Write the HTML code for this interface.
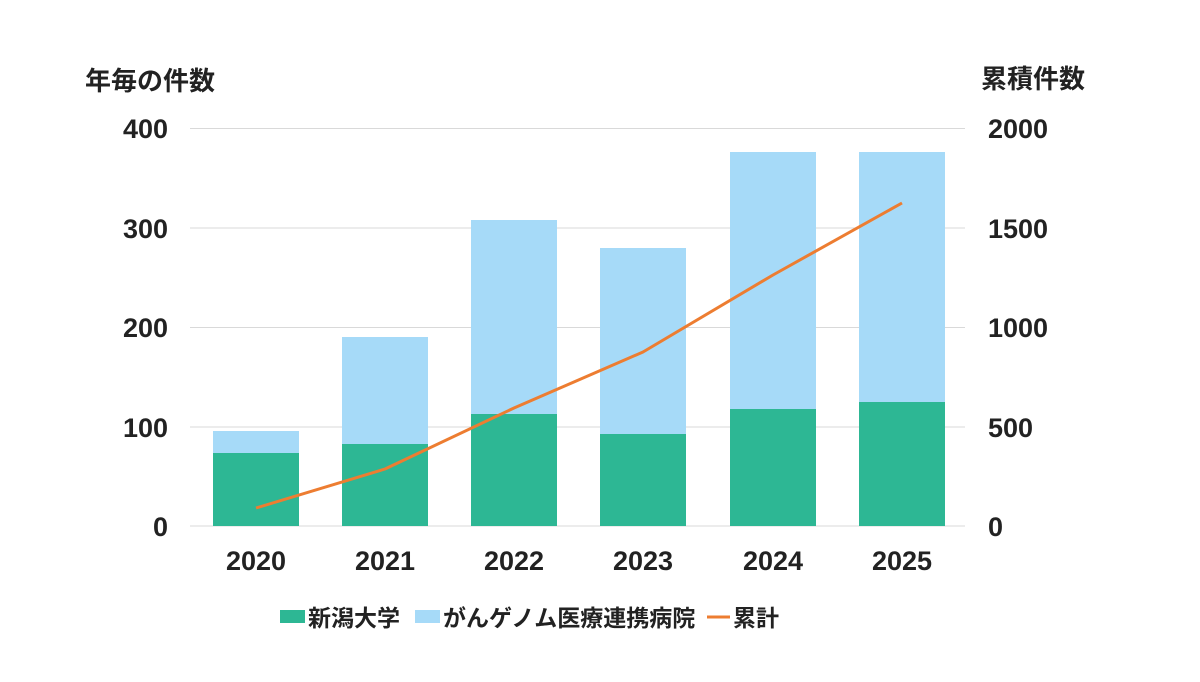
<!DOCTYPE html>
<html><head><meta charset="utf-8"><style>
body{margin:0;background:#fff;}
svg text{font-family:"Liberation Sans","Noto Sans CJK JP",sans-serif;fill:#222;font-weight:bold;}
</style></head><body>
<svg width="1200" height="677" xmlns="http://www.w3.org/2000/svg">
<g stroke="#d9d9d9" stroke-width="1">
<line x1="190" x2="965" y1="128.5" y2="128.5"/>
<line x1="190" x2="965" y1="228" y2="228"/>
<line x1="190" x2="965" y1="327.5" y2="327.5"/>
<line x1="190" x2="965" y1="427" y2="427"/>
<line x1="190" x2="965" y1="526" y2="526"/>
</g>
<g font-size="27">
<text x="215" y="90" font-size="26" font-weight="500" text-anchor="end">年毎の件数</text>
<text x="1085" y="88" font-size="26" font-weight="500" text-anchor="end">累積件数</text>
<g text-anchor="end">
<text x="168" y="138">400</text><text x="168" y="238">300</text><text x="168" y="337">200</text><text x="168" y="437">100</text><text x="168" y="536">0</text>
</g>
<g text-anchor="start">
<text x="988" y="138">2000</text><text x="988" y="238">1500</text><text x="988" y="337">1000</text><text x="988" y="437">500</text><text x="988" y="536">0</text>
</g>
<g text-anchor="middle">
<text x="256" y="570">2020</text><text x="385" y="570">2021</text><text x="514" y="570">2022</text><text x="643" y="570">2023</text><text x="773" y="570">2024</text><text x="902" y="570">2025</text>
</g>
</g>
<g fill="#a6daf8">
<rect x="213" y="431" width="86" height="95"/>
<rect x="342" y="337" width="86" height="189"/>
<rect x="471" y="220" width="86" height="306"/>
<rect x="600" y="248" width="86" height="278"/>
<rect x="730" y="152" width="86" height="374"/>
<rect x="859" y="152" width="86" height="374"/>
</g>
<g fill="#2db794">
<rect x="213" y="453" width="86" height="73"/>
<rect x="342" y="444" width="86" height="82"/>
<rect x="471" y="414" width="86" height="112"/>
<rect x="600" y="434" width="86" height="92"/>
<rect x="730" y="409" width="86" height="117"/>
<rect x="859" y="402" width="86" height="124"/>
</g>
<polyline points="256,508 385,469 514,408 643,352 773,275 902,203" fill="none" stroke="#ed7d31" stroke-width="3" stroke-linejoin="round"/>
<rect x="280" y="610" width="25" height="13" fill="#2db794"/>
<text x="308" y="626" font-size="23" font-weight="500">新潟大学</text>
<rect x="415" y="610" width="25" height="13" fill="#a6daf8"/>
<text x="443" y="626" font-size="23" font-weight="500">がんゲノム医療連携病院</text>
<line x1="707" x2="730" y1="617" y2="617" stroke="#ed7d31" stroke-width="3"/>
<text x="733" y="626" font-size="23" font-weight="500">累計</text>
</svg>
</body></html>
